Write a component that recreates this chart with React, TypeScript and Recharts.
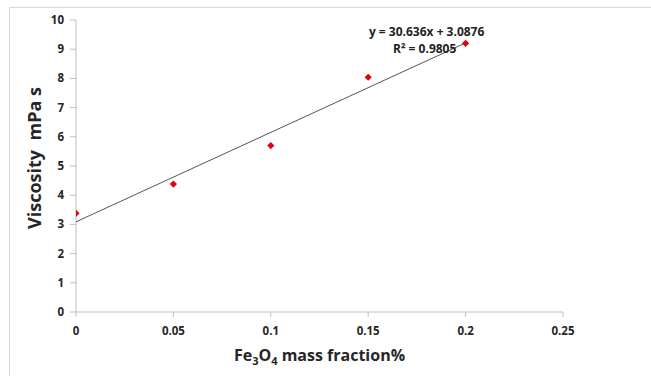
import React from "react";
import {
  ScatterChart,
  Scatter,
  XAxis,
  YAxis,
  ReferenceDot,
  Label,
} from "recharts";

const massFraction = [0, 0.05, 0.1, 0.15, 0.2];
const viscosity = [3.38, 4.38, 5.7, 8.04, 9.2];
const trendX = [0, 0.2];
const trendY = [3.0876, 9.2148];
const xTicks = [0, 0.05, 0.1, 0.15, 0.2, 0.25];
const yTicks = [0, 1, 2, 3, 4, 5, 6, 7, 8, 9, 10];
const equationText = "y = 30.636x + 3.0876";
const r2Text = "R² = 0.9805";

const points = massFraction.map((x, i) => ({ x, y: viscosity[i] }));
const trend = trendX.map((x, i) => ({ x, y: trendY[i] }));

const FONT = "'Open Sans', 'Liberation Sans', sans-serif";
const TEXT = "#262626";
const AXIS = "#bfbfbf";

const Diamond = (props: any) => {
  const { cx, cy } = props;
  const r = 3.6;
  return (
    <polygon
      points={`${cx},${cy - r} ${cx + r},${cy} ${cx},${cy + r} ${cx - r},${cy}`}
      fill="#e3000f"
    />
  );
};

const XTitle = (props: any) => {
  const vb = props.viewBox;
  const cx = vb.x + vb.width / 2;
  return (
    <text
      x={cx}
      y={361}
      textAnchor="middle"
      fontFamily={FONT}
      fontWeight="bold"
      fontSize={16}
      fill={TEXT}
    >
      Fe
      <tspan fontSize={11} dy={4}>3</tspan>
      <tspan dy={-4}>O</tspan>
      <tspan fontSize={11} dy={4}>4</tspan>
      <tspan dy={-4}> mass fraction%</tspan>
    </text>
  );
};

const YTitle = () => {
  const cy = 158;
  const cx = 34;
  return (
    <text
      x={cx}
      y={cy}
      textAnchor="middle"
      dominantBaseline="central"
      transform={`rotate(-90, ${cx}, ${cy})`}
      fontFamily={FONT}
      fontWeight="bold"
      fontSize={18}
      fill={TEXT}
      style={{ whiteSpace: "pre" }}
    >
      {"Viscosity  mPa s"}
    </text>
  );
};

const EqLabel = (text: string) => (props: any) => {
  const vb = props.viewBox;
  return (
    <text
      x={vb.cx ?? vb.x}
      y={vb.cy ?? vb.y}
      textAnchor="middle"
      dominantBaseline="central"
      fontFamily={FONT}
      fontWeight="bold"
      fontSize={12}
      fill="#222"
    >
      {text}
    </text>
  );
};

export default function App() {
  return (
    <div
      style={{
        position: "absolute",
        left: 0,
        top: 0,
        width: 651,
        height: 376,
        background: "#fff",
      }}
    >
      <div
        style={{
          position: "absolute",
          left: 9,
          top: 7,
          right: 0,
          bottom: 0,
          borderLeft: "1px solid #d9d9d9",
          borderTop: "1px solid #d9d9d9",
        }}
      />
      <ScatterChart
        width={651}
        height={376}
        margin={{ top: 20, right: 88, bottom: 0, left: 0 }}
        style={{ position: "absolute", left: 0, top: 0 }}
      >
        <XAxis
          type="number"
          dataKey="x"
          domain={[0, 0.25]}
          ticks={xTicks}
          allowDataOverflow
          height={64}
          axisLine={{ stroke: AXIS }}
          tickLine={{ stroke: AXIS }}
          tickSize={5}
          tick={{ fontFamily: FONT, fontWeight: "bold", fontSize: 11.5, fill: TEXT }}
          tickMargin={10}
        >
          <Label content={<XTitle />} />
        </XAxis>
        <YAxis
          type="number"
          dataKey="y"
          domain={[0, 10]}
          ticks={yTicks}
          width={76}
          axisLine={{ stroke: AXIS }}
          tickLine={{ stroke: AXIS }}
          tickSize={6}
          tickMargin={6}
          tick={{ fontFamily: FONT, fontWeight: "bold", fontSize: 11.5, fill: TEXT }}
        >
          <Label content={<YTitle />} />
        </YAxis>
        <Scatter
          data={trend}
          line={{ stroke: "#555555", strokeWidth: 1 }}
          shape={() => null}
          isAnimationActive={false}
        />
        <Scatter data={points} shape={<Diamond />} isAnimationActive={false} />
        <ReferenceDot
          x={0.18}
          y={9.62}
          r={0}
          ifOverflow="visible"
          label={EqLabel(equationText)}
        />
        <ReferenceDot
          x={0.179}
          y={9.02}
          r={0}
          ifOverflow="visible"
          label={EqLabel(r2Text)}
        />
      </ScatterChart>
    </div>
  );
}
